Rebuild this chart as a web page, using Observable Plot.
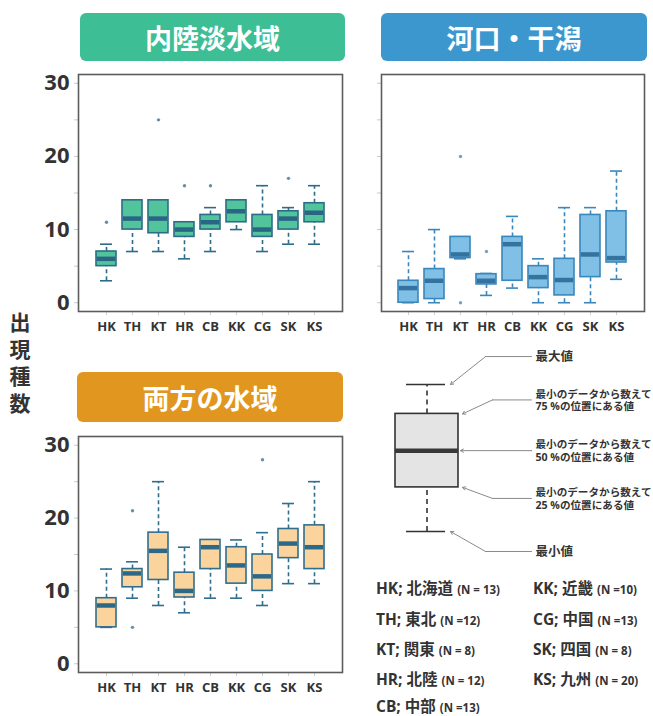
<!DOCTYPE html>
<html>
<head>
<meta charset="utf-8">
<script src="https://cdn.jsdelivr.net/npm/d3@7"></script>
<script src="https://cdn.jsdelivr.net/npm/@observablehq/plot@0.6"></script>
<style>
  html, body { margin: 0; padding: 0; background: #fff; }
  #page { position: relative; width: 653px; height: 716px; overflow: hidden; background: #fff;
          font-family: 'Open Sans', 'Noto Sans CJK JP', sans-serif; color: #333; }
  .title { position: absolute; color: #fff; font-family: 'Noto Sans CJK JP', sans-serif; font-weight: 700;
           font-size: 27px; display: flex; align-items: center; justify-content: center; border-radius: 6px; }
  .leg { position: absolute; font-weight: 700; font-size: 15.5px; line-height: 18px; white-space: nowrap; color: #333; }
  .leg small { font-size: 11.5px; font-weight: 700; }
  .ylab { position: absolute; left: 7px; top: 312px; width: 26px; line-height: 26px;
          writing-mode: vertical-rl; text-orientation: upright; letter-spacing: 5.7px;
          font-family: 'Noto Sans CJK JP', sans-serif; font-weight: 700; font-size: 21px; color: #333; white-space: nowrap; }
</style>
</head>
<body>
<div id="page"></div>
<script>
// ---------- data ----------
const regions = ["HK","TH","KT","HR","CB","KK","CG","SK","KS"];

// 内陸淡水域
const inlandLo  = [3, 7, 7, 6, 7, 10, 7, 8, 8];
const inlandQ1  = [5, 10, 9.5, 9, 10, 11, 9, 10, 11];
const inlandMed = [6, 11.5, 11.5, 10, 11, 12.5, 10, 11.5, 12.3];
const inlandQ3  = [7, 14, 14, 11, 12, 14, 12, 12.5, 13.6];
const inlandHi  = [8, 14, 14, 11, 13, 14, 16, 13, 16];
const inlandOutRegion = ["HK","KT","HR","CB","SK"];
const inlandOutValue  = [11, 25, 16, 16, 17];

// 河口・干潟
const estuaryLo  = [0, 0, 6, 1, 2, 0, 0, 0, 3.2];
const estuaryQ1  = [0, 0.5, 6.1, 2.5, 3, 2, 1, 3.5, 5.5];
const estuaryMed = [2, 3, 6.6, 3, 8, 3.5, 3.1, 6.6, 6.1];
const estuaryQ3  = [3, 4.6, 9, 3.9, 9, 5, 6, 12, 12.5];
const estuaryHi  = [7, 10, 9, 4, 11.8, 6, 13, 13, 18];
const estuaryOutRegion = ["KT","KT","HR"];
const estuaryOutValue  = [20, 0, 7];

// 両方の水域
const bothLo  = [5, 9, 8, 7, 9, 9, 8, 11, 11];
const bothQ1  = [5, 10.5, 11.5, 9.1, 13, 11, 10, 14.5, 13];
const bothMed = [8, 12.4, 15.5, 10, 16, 13.5, 12, 16.5, 16];
const bothQ3  = [9, 13, 18, 12.5, 17, 16, 15, 18.5, 19];
const bothHi  = [13, 14, 25, 16, 17, 17, 18, 22, 25];
const bothOutRegion = ["TH","TH","CG"];
const bothOutValue  = [21, 5, 28];

const yTickLabels = [0, 10, 20, 30];
const yMinorTicks = [0, 5, 10, 15, 20, 25, 30];

const panelTitles = ["内陸淡水域", "河口・干潟", "両方の水域"];
const yTitle = "出現種数";

const legendNames = ["北海道","東北","関東","北陸","中部","近畿","中国","四国","九州"];
const legendN = ["(N = 13)","(N =12)","(N = 8)","(N = 12)","(N =13)","(N =10)","(N =13)","(N = 8)","(N = 20)"];

// key (schematic) box
const keyStats = {lo: 0, q1: 3, med: 5.5, q3: 8, hi: 10};
const keyNotes = [
  {lines: ["最大値"], at: "hi", dy: 1.9, tipX: 90, elbowX: 125},
  {lines: ["最小のデータから数えて", "75 %の位置にある値"], at: "q3", dy: 0.95, tipX: 102, elbowX: 132},
  {lines: ["最小のデータから数えて", "50 %の位置にある値"], at: "med", dy: 0, tipX: 100, elbowX: 171},
  {lines: ["最小のデータから数えて", "25 %の位置にある値"], at: "q1", dy: -0.75, tipX: 102, elbowX: 132},
  {lines: ["最小値"], at: "lo", dy: -1.36, tipX: 90, elbowX: 125}
];

// ---------- drawing ----------
const FONT = "'Open Sans', 'Noto Sans CJK JP', sans-serif";
const page = document.getElementById("page");

function place(el, left, top) {
  el.style.position = "absolute";
  el.style.left = left + "px";
  el.style.top = top + "px";
  page.appendChild(el);
}

function boxPanel(o) {
  const data = regions.map((r, i) => ({r, lo: o.lo[i], q1: o.q1[i], med: o.med[i], q3: o.q3[i], hi: o.hi[i]}));
  const outs = o.outR.map((r, i) => ({r, v: o.outV[i]}));
  const marks = [
    Plot.axisY({ticks: yMinorTicks, tickSize: 4, stroke: "#c8c8c8", tickFormat: () => ""}),
    Plot.axisX({tickSize: 4, stroke: "#d0d0d0", tickFormat: () => ""}),
    Plot.axisX({tickSize: 0, tickPadding: 10, fontSize: 13, fontWeight: "bold", fill: "#333"}),
    Plot.ruleX(data, {x: "r", y1: "lo", y2: "q1", stroke: o.stroke, strokeWidth: 1.6, strokeDasharray: "4,3"}),
    Plot.ruleX(data, {x: "r", y1: "q3", y2: "hi", stroke: o.stroke, strokeWidth: 1.6, strokeDasharray: "4,3"}),
    Plot.tickY(data, {x: "r", y: "lo", insetLeft: 4, insetRight: 4, stroke: o.stroke, strokeWidth: 1.6}),
    Plot.tickY(data, {x: "r", y: "hi", insetLeft: 4, insetRight: 4, stroke: o.stroke, strokeWidth: 1.6}),
    Plot.barY(data, {x: "r", y1: "q1", y2: "q3", fill: o.fill, stroke: o.stroke, strokeWidth: 1.6}),
    Plot.tickY(data, {x: "r", y: "med", stroke: o.median, strokeWidth: 4.5, insetLeft: 0.8, insetRight: 0.8}),
    Plot.dot(outs, {x: "r", y: "v", r: 1.7, fill: o.stroke, fillOpacity: 0.75}),
    Plot.frame({stroke: "#5c5c5c", strokeWidth: 1.6})
  ];
  if (o.showY) {
    marks.unshift(Plot.axisY({ticks: yTickLabels, tickSize: 0, tickPadding: 9, fontSize: 22, fontWeight: "bold", fill: "#333"}));
  }
  return Plot.plot({
    width: o.width, height: o.height,
    marginLeft: o.ml, marginRight: o.mr, marginTop: 10, marginBottom: 30,
    x: {type: "band", domain: regions, paddingInner: 0.22, paddingOuter: 0.5, label: null, axis: null},
    y: {domain: [-1.2, 31.2], label: null, axis: null},
    style: {fontFamily: FONT, fontWeight: "bold", color: "#333", background: "transparent", overflow: "visible"},
    marks
  });
}

// titles
const titleSpecs = [
  {text: panelTitles[0], left: 80, top: 13, w: 265, h: 48, bg: "#3dbe95"},
  {text: panelTitles[1], left: 381, top: 13, w: 266, h: 48, bg: "#3d97cf"},
  {text: panelTitles[2], left: 77, top: 372, w: 266, h: 50, bg: "#e0961f"}
];
for (const t of titleSpecs) {
  const d = document.createElement("div");
  d.className = "title";
  d.textContent = t.text;
  d.style.width = t.w + "px"; d.style.height = t.h + "px"; d.style.background = t.bg;
  place(d, t.left, t.top);
}

// panels
place(boxPanel({lo: inlandLo, q1: inlandQ1, med: inlandMed, q3: inlandQ3, hi: inlandHi,
  outR: inlandOutRegion, outV: inlandOutValue, fill: "#52c49c", stroke: "#2d6c88", median: "#2b6585",
  showY: true, width: 350, height: 277, ml: 78, mr: 8}), 0, 64);

place(boxPanel({lo: estuaryLo, q1: estuaryQ1, med: estuaryMed, q3: estuaryQ3, hi: estuaryHi,
  outR: estuaryOutRegion, outV: estuaryOutValue, fill: "#80bfe6", stroke: "#3a87bb", median: "#34729f",
  showY: false, width: 283, height: 277, ml: 11, mr: 9}), 370, 64);

place(boxPanel({lo: bothLo, q1: bothQ1, med: bothMed, q3: bothQ3, hi: bothHi,
  outR: bothOutRegion, outV: bothOutValue, fill: "#fbd49d", stroke: "#2f6e8e", median: "#2c6888",
  showY: true, width: 350, height: 276, ml: 78, mr: 8}), 0, 426);

// y title (vertical)
const yt = document.createElement("div");
yt.className = "ylab";
yt.textContent = yTitle;
page.appendChild(yt);

// key schematic
const keyCx = 66.5, keyX1 = 35, keyX2 = 98, capX1 = 46, capX2 = 85, noteEnd = 171, noteX = 175;
const pointerSegs = [];
keyNotes.forEach((n, i) => {
  const y = keyStats[n.at] + n.dy;
  pointerSegs.push({k: i, x: n.elbowX, y}, {k: i, x: noteEnd, y});
});
const keyPlot = Plot.plot({
  width: 293, height: 240, marginLeft: 0, marginRight: 0, marginTop: 44, marginBottom: 49,
  x: {domain: [0, 293], axis: null},
  y: {domain: [0, 10], axis: null},
  style: {fontFamily: FONT, color: "#333", background: "transparent"},
  marks: [
    Plot.ruleX([keyStats], {x: () => keyCx, y1: "q3", y2: "hi", stroke: "#333", strokeWidth: 1.6, strokeDasharray: "5,4"}),
    Plot.ruleX([keyStats], {x: () => keyCx, y1: "lo", y2: "q1", stroke: "#333", strokeWidth: 1.6, strokeDasharray: "5,4"}),
    Plot.ruleY([keyStats], {y: "hi", x1: () => capX1, x2: () => capX2, stroke: "#333", strokeWidth: 1.6}),
    Plot.ruleY([keyStats], {y: "lo", x1: () => capX1, x2: () => capX2, stroke: "#333", strokeWidth: 1.6}),
    Plot.rect([keyStats], {x1: () => keyX1, x2: () => keyX2, y1: "q1", y2: "q3", fill: "#e4e4e4", stroke: "#333", strokeWidth: 1.6}),
    Plot.ruleY([keyStats], {y: "med", x1: () => keyX1, x2: () => keyX2, stroke: "#383838", strokeWidth: 4.5}),
    Plot.line(pointerSegs, {x: "x", y: "y", z: "k", stroke: "#8a8a8a", strokeWidth: 1}),
    Plot.arrow(keyNotes, {x1: d => d.elbowX, y1: d => keyStats[d.at] + d.dy, x2: d => d.tipX, y2: d => keyStats[d.at],
      stroke: "#8a8a8a", strokeWidth: 1, headLength: 5}),
    Plot.text(keyNotes, {x: () => noteX, y: d => keyStats[d.at] + d.dy, text: d => d.lines.join("\n"),
      textAnchor: "start", lineHeight: 1.2, fontSize: d => d.lines.length === 1 ? 12.5 : 10.6,
      fontWeight: "bold", fill: "#333"})
  ]
});
place(keyPlot, 360, 340);

// region legend
const legRows = [588, 619, 649, 679, 706];
regions.forEach((code, i) => {
  const d = document.createElement("div");
  d.className = "leg";
  d.innerHTML = `${code}; ${legendNames[i]} <small>${legendN[i]}</small>`;
  const col = i < 5 ? 0 : 1;
  const row = i < 5 ? i : i - 5;
  place(d, col === 0 ? 376 : 533, legRows[row] - 9);
});
</script>
</body>
</html>
